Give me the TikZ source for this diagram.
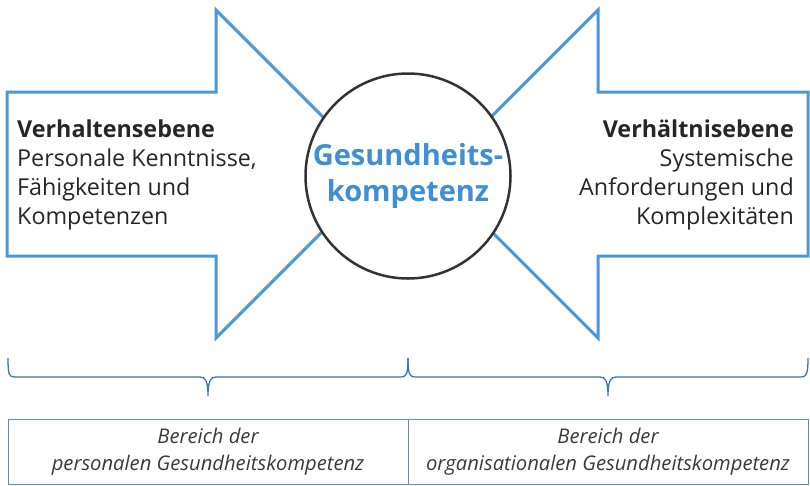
\documentclass[tikz,border=0pt]{standalone}
\usepackage{fontspec}
\setmainfont{Open Sans}
\usetikzlibrary{positioning}
\definecolor{arrowblue}{HTML}{4A98D8}
\definecolor{titleblue}{HTML}{3F8FD6}
\definecolor{braceblue}{HTML}{3C74B2}
\definecolor{boxblue}{HTML}{5B8FC9}
\definecolor{textgray}{HTML}{3A3A3A}
\tikzset{
  bigarrow/.style={draw=arrowblue, line width=3pt, line join=miter, fill=white},
  levelbox/.style={align=#1, font=\fontsize{23.3}{29}\selectfont, text=black!85, inner sep=0pt},
  curly/.style={draw=braceblue, line width=1.3pt},
  areabox/.style={draw=boxblue, line width=1pt},
  arealabel/.style={align=center, font=\fontsize{20.2}{27}\selectfont\itshape, text=textgray, inner sep=0pt}
}
\begin{document}
\begin{tikzpicture}[x=1pt, y=-1pt]
  \useasboundingbox (0,0) rectangle (810,485);
  \draw[bigarrow] (7,92) -- (216,92) -- (216,10) -- (380,174) -- (216,338) -- (216,256) -- (7,256) -- cycle;
  \draw[bigarrow] (808,92) -- (598,92) -- (598,10) -- (434,174) -- (598,338) -- (598,256) -- (808,256) -- cycle;
  \node[circle, draw=black!80, line width=2.5pt, fill=white, minimum size=205pt, inner sep=0pt,
        align=center, text=titleblue, font=\fontsize{29}{36}\selectfont\bfseries] (core) at (408,176)
        {Gesundheits-\\kompetenz};
  \node[levelbox=left, anchor=west] (verhalten) at (17,175)
        {\textbf{Verhaltensebene}\\Personale Kenntnisse,\\Fähigkeiten und\\Kompetenzen};
  \node[levelbox=right, anchor=east] (verhaeltnis) at (794,175)
        {\textbf{Verhältnisebene}\\Systemische\\Anforderungen und\\Komplexitäten};
  \coordinate (bl) at (8,358);
  \coordinate (bm) at (408,358);
  \coordinate (br) at (808,358);
  \coordinate (tl) at (208,396);
  \coordinate (tr) at (608,396);
  \draw[curly] (bl) .. controls (8,375) and (9,377) .. (15,377) -- (200,377)
    .. controls (205,377) and (208,380) .. (tl) .. controls (208,380) and (211,377) .. (216,377)
    -- (401,377) .. controls (406,377) and (408,375) .. (bm);
  \draw[curly] (bm) .. controls (408,375) and (410,377) .. (415,377) -- (600,377)
    .. controls (605,377) and (608,380) .. (tr) .. controls (608,380) and (611,377) .. (616,377)
    -- (801,377) .. controls (806,377) and (808,375) .. (br);
  \draw[areabox] (8,419) rectangle (808,484);
  \draw[areabox] (408,419) -- (408,484);
  \node[arealabel] (personal) at (208,452) {Bereich der\\personalen Gesundheitskompetenz};
  \node[arealabel] (organisation) at (608,452) {Bereich der\\organisationalen Gesundheitskompetenz};
\end{tikzpicture}
\end{document}
